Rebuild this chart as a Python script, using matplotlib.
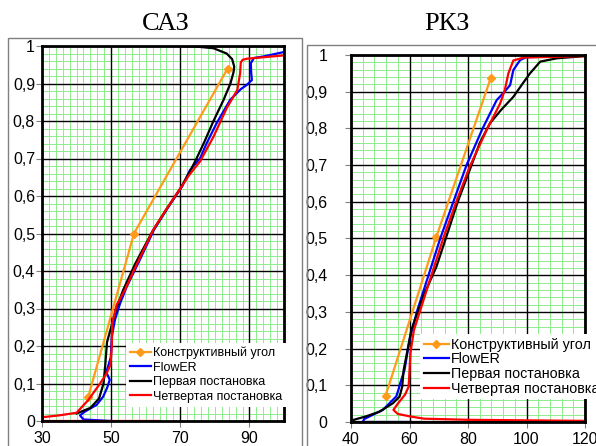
import numpy as np
import matplotlib
matplotlib.use("Agg")
import matplotlib.pyplot as plt
from matplotlib.patches import Rectangle

# ---- data, САЗ (left) ----
sa_orange_x = [43.4, 56.6, 83.7]
sa_orange_y = [0.065, 0.50, 0.94]

sa_blue_x = [50.0, 42.0, 41.0, 42.4, 45.8, 47.7, 48.9, 49.6, 48.6, 49.9, 50.2, 51.1, 52.6, 54.5,
             58.3, 62.4, 66.5, 70.5, 72.8, 75.7, 77.6, 80.5, 84.4, 87.5, 89.2, 90.7, 90.5, 90.4,
             91.3, 94.0, 100.0]
sa_blue_y = [0.0, 0.004, 0.015, 0.025, 0.043, 0.065, 0.09, 0.11, 0.13, 0.17, 0.225, 0.27, 0.314, 0.358,
             0.43, 0.51, 0.57, 0.625, 0.669, 0.70, 0.74, 0.794, 0.856, 0.885, 0.896, 0.909, 0.93, 0.954,
             0.968, 0.972, 0.984]

sa_black_x = [40.0, 44.0, 46.5, 47.8, 48.3, 48.8, 50.0, 51.5, 53.5, 57.0, 62.2, 66.0, 70.0, 72.5,
              74.7, 77.0, 79.6, 82.5, 84.5, 85.4, 85.6, 85.0, 83.4, 79.6, 74.0, 70.0]
sa_black_y = [0.02, 0.035, 0.06, 0.10, 0.15, 0.21, 0.25, 0.30, 0.35, 0.42, 0.51, 0.565, 0.62, 0.66,
              0.70, 0.745, 0.80, 0.856, 0.90, 0.93, 0.945, 0.965, 0.98, 0.994, 0.999, 1.0]

sa_red_x = [64.0, 30.0, 30.0, 35.0, 40.0, 43.4, 46.8, 48.7, 49.8, 50.2, 50.3, 51.6, 54.0, 57.0,
            62.2, 66.0, 70.0, 72.5, 75.7, 79.6, 83.4, 86.5, 87.3, 87.5, 88.0, 89.2, 94.0, 100.0]
sa_red_y = [0.0, 0.0, 0.01, 0.015, 0.022, 0.056, 0.10, 0.127, 0.15, 0.20, 0.26, 0.31, 0.35, 0.41,
            0.51, 0.565, 0.62, 0.655, 0.692, 0.758, 0.834, 0.883, 0.927, 0.956, 0.963, 0.966, 0.97, 0.975]

# ---- data, РКЗ (right) ----
rk_orange_x = [51.8, 69.2, 87.8]
rk_orange_y = [0.071, 0.505, 0.938]

rk_blue_x = [60.5, 44.0, 44.5, 50.9, 55.5, 56.3, 56.8, 58.3, 60.0, 62.5, 66.5, 70.5, 75.0, 79.5,
             85.0, 89.8, 92.5, 94.4, 95.5, 97.8, 99.9, 120.0]
rk_blue_y = [0.0, 0.0, 0.008, 0.033, 0.07, 0.09, 0.105, 0.142, 0.223, 0.30, 0.40, 0.50, 0.60, 0.70,
             0.80, 0.877, 0.90, 0.918, 0.959, 0.986, 0.994, 0.998]

rk_black_x = [108.0, 40.0, 40.5, 45.0, 49.7, 54.3, 56.6, 57.5, 58.0, 58.9, 60.6, 64.6, 69.2, 72.6,
              76.5, 80.6, 84.0, 87.5, 91.5, 95.5, 98.5, 101.2, 104.7, 110.4, 120.0]
rk_black_y = [0.0, 0.0, 0.005, 0.015, 0.028, 0.051, 0.069, 0.096, 0.142, 0.178, 0.25, 0.341, 0.423, 0.505,
              0.60, 0.687, 0.76, 0.814, 0.852, 0.886, 0.92, 0.95, 0.982, 0.991, 0.997]

rk_red_x = [120.0, 80.0, 65.0, 60.3, 56.0, 54.5, 56.0, 58.5, 59.7, 60.0, 60.3, 61.5, 63.5, 67.5,
            71.5, 76.0, 80.6, 86.4, 91.0, 92.6, 93.8, 95.5, 99.0, 120.0]
rk_red_y = [0.003, 0.006, 0.009, 0.015, 0.022, 0.033, 0.05, 0.075, 0.096, 0.14, 0.187, 0.25, 0.30, 0.40,
            0.50, 0.60, 0.696, 0.796, 0.868, 0.905, 0.95, 0.985, 0.993, 0.997]

labels = ["Конструктивный угол", "FlowER", "Первая постановка", "Четвертая постановка"]
y_ticks = [0, 0.1, 0.2, 0.3, 0.4, 0.5, 0.6, 0.7, 0.8, 0.9, 1.0]
y_ticklabels = ["0", "0,1", "0,2", "0,3", "0,4", "0,5", "0,6", "0,7", "0,8", "0,9", "1"]

ORANGE = "#FF9A1A"
BLUE = "#0000FF"
RED = "#FF0000"
GREEN = "#8EEB8E"

plt.rcParams["font.family"] = ["Liberation Sans", "DejaVu Sans"]

W, H = 596, 446
fig = plt.figure(figsize=(W / 100, H / 100), dpi=100)

# outer chart frames (Excel chart areas)
fig.patches.append(Rectangle((8 / W, -0.1), (302 - 8) / W, (446 - 38) / H + 0.1,
                             transform=fig.transFigure, fill=False, ec="#808080", lw=1.0))
fig.patches.append(Rectangle((307 / W, -0.1), 0.6, (446 - 45) / H + 0.1,
                             transform=fig.transFigure, fill=False, ec="#808080", lw=1.0))


def minor_only(start, stop, step, major_step):
    vals = np.round(np.arange(start, stop + step / 2, step), 6)
    k = np.round((vals - start) / major_step, 6)
    return vals[k != np.round(k)]


def style_axes(ax, xlim, xmajor, xminor, ypad):
    ax.set_xlim(*xlim)
    ax.set_ylim(0, 1)
    xt = np.arange(xlim[0], xlim[1] + 0.1, xmajor)
    ax.set_xticks(xt)
    ax.set_xticks(minor_only(xlim[0], xlim[1], xminor, xmajor), minor=True)
    ax.set_yticks(y_ticks)
    ax.set_yticklabels(y_ticklabels)
    ax.set_yticks(minor_only(0, 1, 0.02, 0.1), minor=True)
    ax.grid(which="minor", color=GREEN, lw=0.7)
    ax.set_axisbelow(True)
    # black major grid drawn above the green one
    for v in xt:
        ax.axvline(v, color="black", lw=1.0, zorder=1)
    for v in y_ticks:
        ax.axhline(v, color="black", lw=1.0, zorder=1)
    ax.tick_params(which="minor", length=0)
    ax.tick_params(which="major", length=4, color="#808080", labelsize=11.5)
    ax.tick_params(axis="y", pad=ypad)
    ax.tick_params(axis="x", pad=3)
    for s in ax.spines.values():
        s.set_linewidth(2)
        s.set_color("black")


def draw(ax, ox, oy, bx, by, kx, ky, rx, ry):
    ax.plot(ox, oy, color=ORANGE, lw=1.6, marker="D", ms=4.5, label=labels[0])
    ax.plot(bx, by, color=BLUE, lw=1.6, label=labels[1])
    ax.plot(kx, ky, color="black", lw=1.6, label=labels[2])
    ax.plot(rx, ry, color=RED, lw=1.6, label=labels[3])


# left panel
ax1 = fig.add_axes([42 / W, 25 / H, 242 / W, 375 / H])
style_axes(ax1, (30, 100), 20, 2, 1)
draw(ax1, sa_orange_x, sa_orange_y, sa_blue_x, sa_blue_y,
     sa_black_x, sa_black_y, sa_red_x, sa_red_y)
ax1.legend(loc="upper left", bbox_to_anchor=(126 / W, (446 - 343) / H),
           bbox_transform=fig.transFigure, fontsize=9, frameon=True,
           fancybox=False, framealpha=1, edgecolor="none", facecolor="white",
           handlelength=1.7, handletextpad=0.15, labelspacing=0.2,
           borderpad=0.3, borderaxespad=0)
fig.text(166 / W, 1 - 24 / H, "САЗ", ha="center", va="center",
         fontsize=19, family="Liberation Serif")

# right panel
ax2 = fig.add_axes([351 / W, 24 / H, 234 / W, 367 / H])
style_axes(ax2, (40, 120), 20, 4, 13)
draw(ax2, rk_orange_x, rk_orange_y, rk_blue_x, rk_blue_y,
     rk_black_x, rk_black_y, rk_red_x, rk_red_y)
ax2.legend(loc="upper left", bbox_to_anchor=(420 / W, (446 - 334) / H),
           bbox_transform=fig.transFigure, fontsize=10.3, frameon=True,
           fancybox=False, framealpha=1, edgecolor="none", facecolor="white",
           handlelength=1.8, handletextpad=0.1, labelspacing=0.05,
           borderpad=0.25, borderaxespad=0)
fig.text(447 / W, 1 - 24 / H, "РКЗ", ha="center", va="center",
         fontsize=19, family="Liberation Serif")

fig.savefig("out.png", dpi=100)
